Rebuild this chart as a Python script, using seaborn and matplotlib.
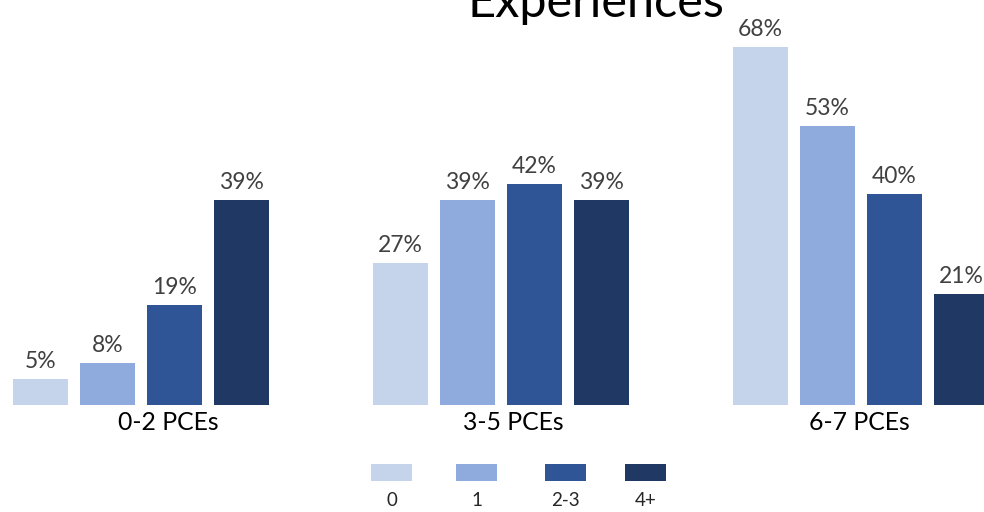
import matplotlib
matplotlib.use("Agg")
import matplotlib.pyplot as plt
from matplotlib.patches import Rectangle
from matplotlib.transforms import ScaledTranslation
import seaborn as sns
import pandas as pd

# Categories and series
groups = ["0-2 PCEs", "3-5 PCEs", "6-7 PCEs"]
ace_levels = ["0", "1", "2-3", "4+"]
ace_0 = [5, 27, 68]
ace_1 = [8, 39, 53]
ace_2_3 = [19, 42, 40]
ace_4plus = [39, 39, 21]
colors = ["#C5D3EB", "#8FAADC", "#2F5597", "#203864"]

rows = []
for level, vals in zip(ace_levels, [ace_0, ace_1, ace_2_3, ace_4plus]):
    for g, v in zip(groups, vals):
        rows.append({"group": g, "ace": level, "pct": v})
df = pd.DataFrame(rows)

sns.set_theme(style="white")
plt.rcParams["font.family"] = ["Lato", "DejaVu Sans"]

fig = plt.figure(figsize=(9.84, 5.12), dpi=100)
ax = fig.add_axes([0.0, 1 - 405 / 512, 1.0, 405 / 512])

sns.barplot(data=df, x="group", y="pct", hue="ace", order=groups,
            hue_order=ace_levels, palette=colors, saturation=1,
            width=0.745, gap=0.19, edgecolor="none", linewidth=0,
            legend=False, ax=ax)

for cont in ax.containers:
    ax.bar_label(cont, fmt="{:.0f}%", padding=5, fontsize=16.5,
                 color="#404040")

ax.set_xlim(-141 / 360, (984 - 141) / 360)
ax.set_ylim(0, 405 / 5.265)
ax.set_xlabel("")
ax.set_ylabel("")
ax.set_yticks([])
ax.tick_params(axis="x", length=0, pad=4, labelsize=17.8, labelcolor="black")
sns.despine(ax=ax, left=True, bottom=True)

# Category labels sit slightly right of their group centres
label_shift_px = [27, 12, -2]
for lbl, dx in zip(ax.get_xticklabels(), label_shift_px):
    lbl.set_transform(lbl.get_transform()
                      + ScaledTranslation(dx / 100, 0, fig.dpi_scale_trans))

# Title (top line runs off the canvas)
fig.text(596 / 984, 1 - 17 / 512, "Experiences", ha="center",
         va="baseline", fontsize=35, color="black")

# Legend: swatches with labels underneath
sw_x = [371, 456, 545, 625]
for x0, lab, col in zip(sw_x, ace_levels, colors):
    fig.add_artist(Rectangle((x0 / 984, 1 - 481 / 512), 41 / 984, 17 / 512,
                             transform=fig.transFigure, facecolor=col,
                             edgecolor="none"))
    fig.text((x0 + 20.5) / 984, 1 - 500 / 512, lab, ha="center",
             va="center", fontsize=13.5, color="#262626")

fig.savefig("out.png", dpi=100)
